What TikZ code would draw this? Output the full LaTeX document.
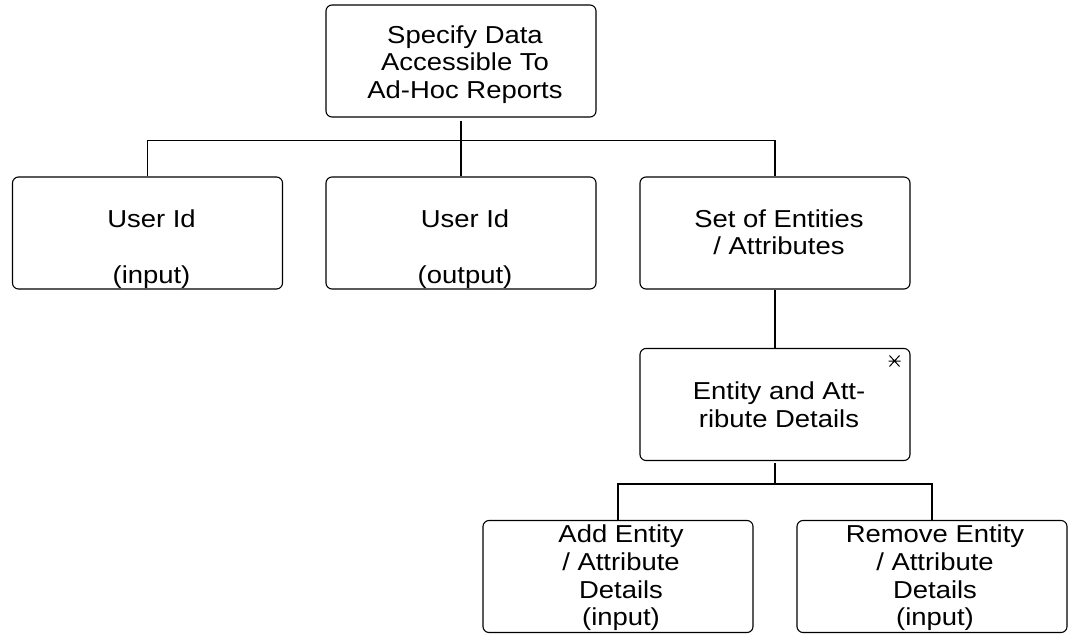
\documentclass[tikz,border=0pt]{standalone}
\usepackage{fontspec}
\setmainfont{Liberation Sans}[FakeStretch=1.12]
\begin{document}
\begin{tikzpicture}[x=1pt,y=-1pt,
  box/.style={draw=black, line width=1.1pt, rounded corners=6pt, minimum width=270pt, minimum height=112pt, inner sep=0pt},
  txt/.style={anchor=base, inner sep=0pt, font=\fontsize{24.5}{27.7}\selectfont},
  conn/.style={draw=black, line width=1.1pt}]
\useasboundingbox[fill=white] (0,0) rectangle (1071,637);
% boxes
\node[box] (top) at (461,61) {};
\node[box] (uin) at (147.5,233) {};
\node[box] (uout) at (461,233) {};
\node[box] (set) at (775,233) {};
\node[box] (ead) at (775,404.5) {};
\node[box] (add) at (618,576.5) {};
\node[box] (rem) at (932,576.5) {};
% texts
\node[txt] (top1) at (465,43) {Specify Data};
\node[txt] (top2) at (465,70.7) {Accessible To};
\node[txt] (top3) at (465,98.4) {Ad-Hoc Reports};
\node[txt] (uin1) at (151.5,227) {User Id};
\node[txt] (uin2) at (151.5,283) {(input)};
\node[txt] (uout1) at (465,227) {User Id};
\node[txt] (uout2) at (465,283) {(output)};
\node[txt] (set1) at (779,227) {Set of Entities};
\node[txt] (set2) at (779,254.5) {/ Attributes};
\node[txt] (ead1) at (779,399) {Entity and Att-};
\node[txt] (ead2) at (779,427) {ribute Details};
\node[txt] (add1) at (621,542) {Add Entity};
\node[txt] (add2) at (621,570) {/ Attribute};
\node[txt] (add3) at (621,598) {Details};
\node[txt] (add4) at (621,625) {(input)};
\node[txt] (rem1) at (935,542) {Remove Entity};
\node[txt] (rem2) at (935,570) {/ Attribute};
\node[txt] (rem3) at (935,598) {Details};
\node[txt] (rem4) at (935,625) {(input)};
% asterisk
\draw[line width=1pt] (888.5,361) -- (900.5,361) (889.5,355.5) -- (899.5,366.5) (889.5,366.5) -- (899.5,355.5);
% connectors
\coordinate (j1) at (461,140.5);
\coordinate (j2) at (775,484);
\draw[conn] ([yshift=-3pt]top.south) -- (top.south |- j1);
\draw[conn] (uin.north) -- (uin.north |- j1) -- (set.north |- j1) -- (set.north);
\draw[conn] (uout.north) -- (uout.north |- j1);
\draw[conn] (set.south) -- (ead.north);
\draw[conn] ([yshift=-2pt]ead.south) -- (j2);
\draw[conn] (add.north) -- (add.north |- j2) -- (rem.north |- j2) -- (rem.north);
\end{tikzpicture}
\end{document}
